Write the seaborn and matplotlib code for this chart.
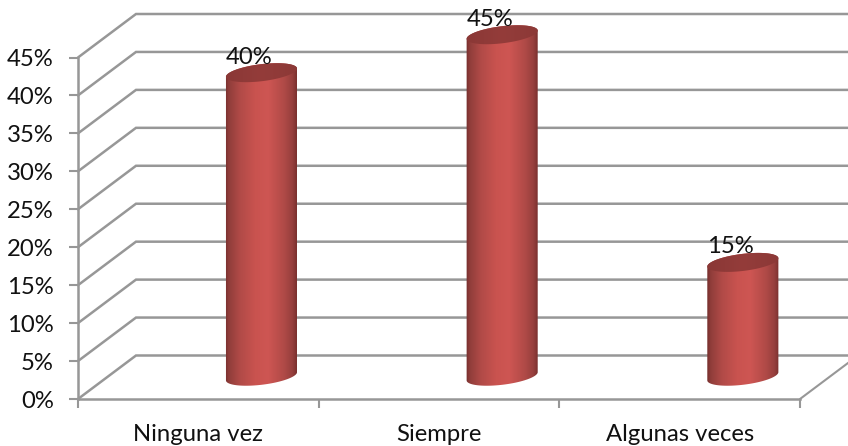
import numpy as np
import pandas as pd
import matplotlib.pyplot as plt
import seaborn as sns
from matplotlib.colors import LinearSegmentedColormap
from matplotlib.patches import Polygon

categories = ['Ninguna vez', 'Siempre', 'Algunas veces']
values = [40, 45, 15]
y_ticks = [0, 5, 10, 15, 20, 25, 30, 35, 40, 45]

sns.set_style('white')
plt.rcParams['font.family'] = ['Lato', 'DejaVu Sans']

W, H = 848, 446
fig = plt.figure(figsize=(W / 100, H / 100), dpi=100)

# front plane of the fake 3D box, in pixels
left, right, y0, y45 = 78, 800, 399, 57.5
ax = fig.add_axes([left / W, 1 - y0 / H, (right - left) / W, (y0 - y45) / H])

px_x = (right - left) / 3      # pixels per category
px_y = (y0 - y45) / 45         # pixels per percent
center0 = 261.5                # pixel x of the first cylinder
x_min = (left - center0) / px_x
x_max = x_min + 3
base = 3.0                     # cylinders stand inside the box floor

df = pd.DataFrame({'cat': categories, 'val': values})
sns.barplot(data=df, x='cat', y='val', order=categories, color='#c0504d',
            width=71 / px_x, bottom=base, ax=ax, zorder=2, saturation=1)

ax.set_xlim(x_min, x_max)
ax.set_ylim(0, 45)
ax.set_xlabel('')
ax.set_ylabel('')

# depth of the box
dx = 58 / px_x
dy = 43.5 / px_y
grid_c = '#979797'
for v in y_ticks:
    ax.plot([x_min, x_min + dx, x_max + dx], [v, v + dy, v + dy], color=grid_c,
            lw=1.8, clip_on=False, zorder=1, solid_joinstyle='miter')
ax.plot([x_max, x_max + dx], [0, dy], color=grid_c, lw=1.5, clip_on=False, zorder=1)

for side in ['top', 'right']:
    ax.spines[side].set_visible(False)
for side in ['left', 'bottom']:
    ax.spines[side].set_color(grid_c)
    ax.spines[side].set_linewidth(1.8)
    ax.spines[side].set_zorder(1.5)

ax.set_yticks(y_ticks)
ax.set_yticklabels([f'{v}%' for v in y_ticks])
ax.tick_params(axis='y', length=6.5, width=1.5, color=grid_c, left=True, pad=11,
               labelsize=17.2, labelcolor='#111111')
# labels sit in the middle of the front plane, tick marks between categories
ax.set_xticks([x_min + 0.5 + i for i in range(3)])
ax.set_xticklabels(categories)
ax.set_xticks([x_min + i for i in range(4)], minor=True)
ax.tick_params(axis='x', which='major', length=0, pad=18, labelsize=17.2, labelcolor='#111111')
ax.tick_params(axis='x', which='minor', length=6.5, width=1.5, color=grid_c, bottom=True)

body_cmap = LinearSegmentedColormap.from_list('body', [
    (0, '#752e2c'), (0.05, '#8f3d3a'), (0.2, '#b04a47'), (0.42, '#c9534f'),
    (0.6, '#ce5653'), (0.82, '#b04a47'), (0.94, '#963f3d'), (1, '#7a302e')])
cap_cmap = LinearSegmentedColormap.from_list('cap', ['#8a3836', '#943c3a', '#8c3937'])
ramp = np.linspace(0, 1, 256).reshape(1, -1)


def ellipse_pts(cx, cy, start, stop):
    # tilted ellipse worked out in pixels, returned in data units
    t = np.linspace(start, stop, 80)
    a, b, tilt = 35.8, 8.5, np.radians(7)
    ex = a * np.cos(t) * np.cos(tilt) - b * np.sin(t) * np.sin(tilt)
    ey = a * np.cos(t) * np.sin(tilt) + b * np.sin(t) * np.cos(tilt)
    return np.column_stack([cx + ex / px_x, cy + ey / px_y])


for bar, val in zip(ax.patches, values):
    cx = bar.get_x() + bar.get_width() / 2
    bottom, top = bar.get_y(), bar.get_y() + bar.get_height()
    half = 36 / px_x

    # cylinder body: lower half of bottom ellipse + top edge
    body_pts = np.vstack([ellipse_pts(cx, bottom, np.pi, 2 * np.pi),
                          ellipse_pts(cx, top, 0, np.pi)])
    clip = Polygon(body_pts, closed=True, transform=ax.transData)
    im = ax.imshow(ramp, cmap=body_cmap, aspect='auto', zorder=3,
                   extent=[cx - half, cx + half, bottom - 2, top + 2])
    im.set_clip_path(clip)
    im.set_clip_box(fig.bbox)

    cap = Polygon(ellipse_pts(cx, top, 0, 2 * np.pi), closed=True, transform=ax.transData)
    im2 = ax.imshow(ramp, cmap=cap_cmap, aspect='auto', zorder=4,
                    extent=[cx - half, cx + half, top - 2, top + 2])
    im2.set_clip_path(cap)
    im2.set_clip_box(fig.bbox)

    bar.set_visible(False)
    ax.text(cx - 12 / px_x, top + 15.5 / px_y, f'{val}%', ha='center', va='center',
            fontsize=17.2, color='#111111', zorder=5)

ax.set_xlim(x_min, x_max)
ax.set_ylim(0, 45)

fig.savefig('out.png', dpi=100)
